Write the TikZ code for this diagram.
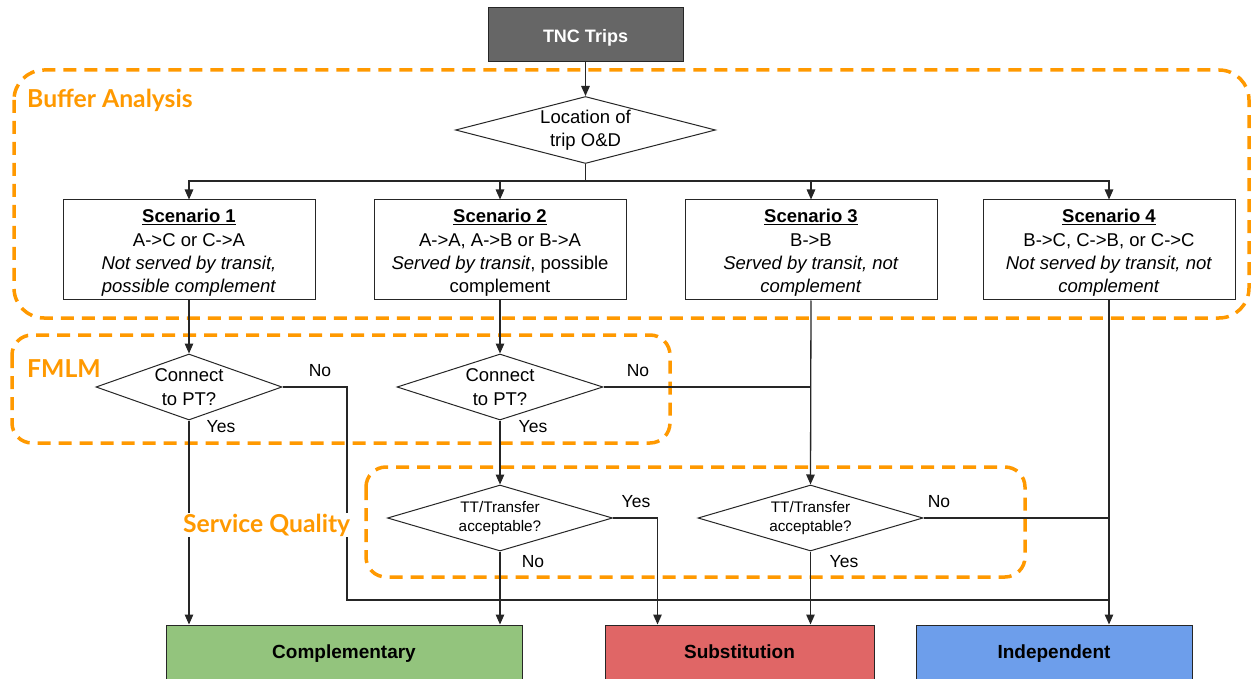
\documentclass[tikz,border=0pt]{standalone}
\usepackage{fontspec}
\setmainfont{Liberation Sans}
\newfontfamily\latofont{Lato}
\usetikzlibrary{arrows.meta,shapes.geometric,calc}
\definecolor{orng}{HTML}{FF9900}
\definecolor{edge}{HTML}{262626}
\definecolor{tncgray}{HTML}{666666}
\definecolor{cgreen}{HTML}{93C47D}
\definecolor{sred}{HTML}{E06666}
\definecolor{iblue}{HTML}{6D9EEB}
\tikzset{
  region/.style={draw=orng, line width=3.5pt, dash pattern=on 13pt off 8pt},
  regionlabel/.style={text=orng, font=\latofont\bfseries\fontsize{24.7}{27}\selectfont, anchor=west, inner sep=1pt},
  tncbox/.style={rectangle, draw=edge, fill=tncgray, line width=1pt, minimum width=195pt, minimum height=54pt, text=white, text height=15pt, text depth=0pt, font=\bfseries\fontsize{18}{20}\selectfont},
  scenbox/.style={rectangle, draw=edge, fill=white, line width=1pt, minimum width=252pt, minimum height=100pt, inner sep=0pt},
  stext/.style={align=center, inner sep=0pt, yshift=-3pt, font=\fontsize{18.5}{23.3}\selectfont},
  dia/.style={diamond, draw=edge, fill=white, line width=1pt, inner sep=0pt},
  dtext/.style={align=center, inner sep=0pt, font=\fontsize{18.5}{23.5}\selectfont},
  ttext/.style={align=center, inner sep=0pt, font=\fontsize{15.3}{19}\selectfont},
  outbox/.style={rectangle, draw=edge, line width=1pt, minimum height=56pt, text height=14pt, text depth=2.4pt, font=\bfseries\fontsize{19}{21}\selectfont},
  conn/.style={draw=edge, line width=1.3pt},
  arr/.style={conn, -{Triangle[length=10pt,width=8.5pt]}},
  ylab/.style={font=\fontsize{17.5}{20}\selectfont, inner sep=0pt}
}
\begin{document}
\begin{tikzpicture}[x=1pt,y=-1pt]
\useasboundingbox (0,0) rectangle (1251,679);
\fill[white] (0,0) rectangle (1251,679);

% dashed regions
\draw[region, rounded corners=30pt] (14,70) rectangle (1249,318);
\draw[region, rounded corners=20pt] (12,335) rectangle (670,443);
\draw[region, rounded corners=20pt] (366,467) rectangle (1025,577);
\node[regionlabel] (lbuf) at (26,100) {Buffer Analysis};
\node[regionlabel] (lfm) at (26,369) {FMLM};

% nodes
\node[tncbox] (tnc) at (585.5,35) {TNC Trips};
\node[dia, minimum width=260pt, minimum height=67pt,
      label={[dtext]center:{Location of\\trip O\&D}}] (loc) at (585.5,130) {};
\coordinate (split) at (585.5,181);

\node[scenbox, label={[stext]center:{\underline{\textbf{Scenario 1}}\\A->C or C->A\\\textit{Not served by transit,}\\\textit{possible complement}}}] (s1) at (189,250) {};
\node[scenbox, label={[stext]center:{\underline{\textbf{Scenario 2}}\\A->A, A->B or B->A\\\textit{Served by transit}, possible\\complement}}] (s2) at (500,250) {};
\node[scenbox, label={[stext]center:{\underline{\textbf{Scenario 3}}\\B->B\\\textit{Served by transit, not}\\\textit{complement}}}] (s3) at (811,250) {};
\node[scenbox, label={[stext]center:{\underline{\textbf{Scenario 4}}\\B->C, C->B, or C->C\\\textit{Not served by transit, not}\\\textit{complement}}}] (s4) at (1109,250) {};

\node[dia, minimum width=186pt, minimum height=66pt,
      label={[dtext]center:{Connect\\to PT?}}] (c1) at (189,387) {};
\node[dia, minimum width=206pt, minimum height=66pt,
      label={[dtext]center:{Connect\\to PT?}}] (c2) at (500,387) {};

\node[dia, minimum width=225pt, minimum height=66pt,
      label={[ttext]center:{TT/Transfer\\acceptable?}}] (t1) at (500,518) {};
\node[dia, minimum width=225pt, minimum height=66pt,
      label={[ttext]center:{TT/Transfer\\acceptable?}}] (t2) at (810.5,518) {};

\node[outbox, fill=cgreen, minimum width=356pt] (comp) at (344,653) {Complementary};
\node[outbox, fill=sred, minimum width=269pt] (sub) at (739.5,653) {Substitution};
\node[outbox, fill=iblue, minimum width=276pt] (ind) at (1054,653) {Independent};

\coordinate (j1) at (347,600);
\coordinate (j4) at (1109,600);

% connectors
\draw[arr] (tnc.south) -- (loc.north);
\draw[conn] (loc.south) -- (split);
\draw[arr] (split) -| (s1.north);
\draw[arr] (split) -| (s2.north);
\draw[arr] (split) -| (s3.north);
\draw[arr] (split) -| (s4.north);

\draw[arr] (s1.south) -- (c1.north);
\draw[arr] (s2.south) -- (c2.north);
\draw[arr] (s3.south) -- (t2.north);
\draw[arr] (s4.south) -- (s4.south |- ind.north);

\draw[conn] (c1.east) -| (j1) -- (j4);
\draw[arr] (c1.south) -- (c1.south |- comp.north);
\draw[conn] (c2.east) -- (c2.east -| s3.south);
\draw[arr] (c2.south) -- (t1.north);

\draw[arr] (t1.east) -| ([xshift=53pt]sub.north west);
\draw[arr] (t1.south) -- (t1.south |- comp.north);
\draw[conn] (t2.east) -- (t2.east -| s4.south);
\draw[arr] (t2.south) -- (t2.south |- sub.north);

% yes/no labels
\node[ylab] (n1) at (320,371) {No};
\node[ylab] (y1) at (221,427) {Yes};
\node[ylab] (n2) at (638,371) {No};
\node[ylab] (y2) at (533,427) {Yes};
\node[ylab] (y3) at (636,502) {Yes};
\node[ylab] (n3) at (533,562) {No};
\node[ylab] (n4) at (939,502) {No};
\node[ylab] (y4) at (844,562) {Yes};

\node[regionlabel, fill=white, inner xsep=2pt] (lsq) at (181,525) {Service Quality};
\end{tikzpicture}
\end{document}
